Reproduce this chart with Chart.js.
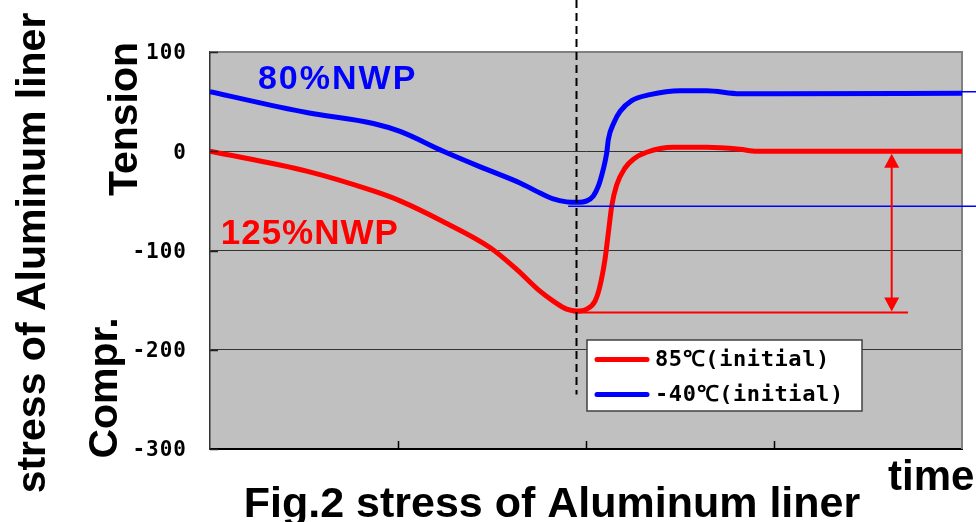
<!DOCTYPE html>
<html>
<head>
<meta charset="utf-8">
<script src="https://cdn.jsdelivr.net/npm/chart.js@4.4.0/dist/chart.umd.min.js"></script>
<style>
  html, body { margin: 0; padding: 0; background: #fff; }
  #wrap { width: 976px; height: 522px; }
</style>
</head>
<body>
<div id="wrap"><canvas id="stressChart" width="976" height="522"></canvas></div>
<script>
// ====================================
// Data
// ====================================
var stressTicks = [100, 0, -100, -200, -300];
var timeRange = [0, 4];

// 85C initial (125%NWP)
var time85 = [0, 0.514, 0.869, 1.011, 1.241, 1.489, 1.631, 1.755, 1.826, 1.897, 1.951, 2.004, 2.048,
              2.074, 2.101, 2.119, 2.137, 2.163, 2.207, 2.252, 2.323, 2.464, 2.642, 2.819, 2.908, 4.0];
var stress85 = [0, -20, -40, -50, -71, -97, -119, -141, -151, -159, -161, -159, -151,
                -136, -109, -82, -55, -34, -17, -8, -1, 4, 4, 2, 0, 0];

// -40C initial (80%NWP)
var timeM40 = [0, 0.514, 0.869, 1.011, 1.241, 1.454, 1.649, 1.755, 1.826, 1.897, 1.951, 2.004, 2.039,
               2.066, 2.092, 2.110, 2.119, 2.149, 2.181, 2.243, 2.34, 2.5, 2.642, 2.819, 2.996, 4.0];
var stressM40 = [60, 39, 28, 20, 0, -17, -32, -42, -48, -51, -51.5, -50, -45,
                 -35, -18, -2, 12, 29, 40, 51, 57, 61, 61, 58, 58, 58.5];

var seriesLabels = ['85℃(initial)', '-40℃(initial)'];
var seriesColors = ['#ff0000', '#0000ff'];
var curveNotes = ['125%NWP', '80%NWP'];

// guide lines
var dashTime = 1.945;        // vertical dashed marker
var dashBottom = -245;
var min85 = -162.5;          // bottom of the 85C dip
var min85From = 1.93, min85To = 3.713;
var minM40 = -55.4;          // bottom of the -40C dip
var minM40From = 1.905;
var endM40 = 60, endM40From = 3.9;
var arrowTime = 3.626;

function points(xs, ys) {
    var out = [];
    for (var i = 0; i < xs.length; i++) out.push({ x: xs[i], y: ys[i] });
    return out;
}

// ====================================
// Drawing helpers
// ====================================
function hline(ctx, x1, x2, y, color, w) {
    ctx.beginPath();
    ctx.strokeStyle = color;
    ctx.lineWidth = w;
    ctx.moveTo(x1, y);
    ctx.lineTo(x2, y);
    ctx.stroke();
}

function arrowHead(ctx, x, tipY, dir) {
    ctx.beginPath();
    ctx.moveTo(x, tipY);
    ctx.lineTo(x - 7.5, tipY + dir * 14);
    ctx.lineTo(x + 7.5, tipY + dir * 14);
    ctx.closePath();
    ctx.fill();
}

function vtext(ctx, str, x, cy, font) {
    ctx.save();
    ctx.translate(x, cy);
    ctx.rotate(-Math.PI / 2);
    ctx.font = font;
    ctx.textAlign = 'center';
    ctx.textBaseline = 'alphabetic';
    ctx.fillText(str, 0, 0);
    ctx.restore();
}

var decor = {
    id: 'decor',
    beforeDraw: function(chart) {
        var ctx = chart.ctx, a = chart.chartArea;
        ctx.save();
        ctx.fillStyle = '#ffffff';
        ctx.fillRect(0, 0, chart.width, chart.height);
        ctx.fillStyle = '#c0c0c0';
        ctx.fillRect(a.left, a.top, a.right - a.left, a.bottom - a.top);
        ctx.restore();
        // spaced-out tick digits
        ctx.letterSpacing = '1px';
    },
    beforeDatasetsDraw: function(chart) {
        var ctx = chart.ctx, a = chart.chartArea;
        ctx.letterSpacing = '0px';
        ctx.save();
        // gray frame on top and right
        ctx.strokeStyle = '#808080';
        ctx.lineWidth = 2;
        ctx.beginPath();
        ctx.moveTo(a.left, a.top);
        ctx.lineTo(a.right, a.top);
        ctx.lineTo(a.right, a.bottom);
        ctx.stroke();
        ctx.restore();
    },
    afterDatasetsDraw: function(chart) {
        var ctx = chart.ctx, a = chart.chartArea;
        var x = chart.scales.x, y = chart.scales.y;
        ctx.save();

        // thin guide lines at the dips
        hline(ctx, x.getPixelForValue(minM40From), chart.width, y.getPixelForValue(minM40), '#0000ff', 1.5);
        hline(ctx, x.getPixelForValue(endM40From), chart.width, y.getPixelForValue(endM40), '#0000ff', 1.5);
        hline(ctx, x.getPixelForValue(min85From), x.getPixelForValue(min85To), y.getPixelForValue(min85), '#ff0000', 2);

        // double arrow between 0 and the 85C dip
        var ax = x.getPixelForValue(arrowTime);
        var ay0 = y.getPixelForValue(0) + 2.5;
        var ay1 = y.getPixelForValue(min85) - 1;
        ctx.strokeStyle = '#ff0000';
        ctx.fillStyle = '#ff0000';
        ctx.lineWidth = 2;
        ctx.beginPath();
        ctx.moveTo(ax, ay0 + 10);
        ctx.lineTo(ax, ay1 - 10);
        ctx.stroke();
        arrowHead(ctx, ax, ay0, 1);
        arrowHead(ctx, ax, ay1, -1);

        // vertical dashed marker
        var dx = Math.round(x.getPixelForValue(dashTime)) + 0.5;
        ctx.strokeStyle = '#000';
        ctx.lineWidth = 2;
        ctx.setLineDash([8, 5]);
        ctx.beginPath();
        ctx.moveTo(dx, 0);
        ctx.lineTo(dx, y.getPixelForValue(dashBottom));
        ctx.stroke();
        ctx.setLineDash([]);

        // inward tick marks
        ctx.strokeStyle = '#000';
        ctx.lineWidth = 1.5;
        x.ticks.forEach(function(t) {
            if (t.value <= timeRange[0] || t.value >= timeRange[1]) return;
            var px = Math.round(x.getPixelForValue(t.value)) + 0.5;
            ctx.beginPath();
            ctx.moveTo(px, a.bottom);
            ctx.lineTo(px, a.bottom - 8);
            ctx.stroke();
        });
        ctx.strokeStyle = '#222';
        ctx.lineWidth = 1.5;
        y.ticks.forEach(function(t) {
            var py = Math.round(y.getPixelForValue(t.value)) + 0.5;
            ctx.beginPath();
            ctx.moveTo(a.left, py);
            ctx.lineTo(a.left + 8, py);
            ctx.stroke();
        });

        // legend
        var bx = 587, by = 340, bw = 275, bh = 71;
        ctx.fillStyle = '#ffffff';
        ctx.fillRect(bx, by, bw, bh);
        ctx.strokeStyle = '#404040';
        ctx.lineWidth = 1.5;
        ctx.strokeRect(bx, by, bw, bh);
        var rows = [359.5, 394.5];
        chart.data.datasets.forEach(function(ds, i) {
            ctx.strokeStyle = ds.borderColor;
            ctx.lineWidth = 5;
            ctx.lineCap = 'round';
            ctx.beginPath();
            ctx.moveTo(597, rows[i]);
            ctx.lineTo(647, rows[i]);
            ctx.stroke();
            ctx.lineCap = 'butt';
            ctx.fillStyle = '#000';
            ctx.font = 'bold 22px "DejaVu Sans Mono"';
            ctx.letterSpacing = '0.6px';
            ctx.textAlign = 'left';
            ctx.textBaseline = 'middle';
            ctx.fillText(ds.label, 655, rows[i] + 1);
            ctx.letterSpacing = '0px';
        });

        // curve notes
        ctx.font = 'bold 34px "Liberation Sans", Arial, sans-serif';
        ctx.textAlign = 'left';
        ctx.textBaseline = 'alphabetic';
        ctx.letterSpacing = '2px';
        ctx.fillStyle = seriesColors[1];
        ctx.fillText(curveNotes[1], x.getPixelForValue(0.255), y.getPixelForValue(62.9));
        ctx.font = 'bold 35px "Liberation Sans", Arial, sans-serif';
        ctx.letterSpacing = '1px';
        ctx.fillStyle = seriesColors[0];
        ctx.fillText(curveNotes[0], x.getPixelForValue(0.057), y.getPixelForValue(-93));
        ctx.letterSpacing = '0px';

        ctx.restore();
    },
    afterDraw: function(chart) {
        var ctx = chart.ctx;
        ctx.save();
        ctx.letterSpacing = '0px';
        ctx.fillStyle = '#000';
        var big = 'bold 41px "Liberation Sans", Arial, sans-serif';
        vtext(ctx, 'stress of Aluminum liner', 45, 253, big);
        vtext(ctx, 'Tension', 137, 119, big);
        vtext(ctx, 'Compr.', 117, 388, big);

        ctx.font = 'bold 43px "Liberation Sans", Arial, sans-serif';
        ctx.textAlign = 'center';
        ctx.textBaseline = 'alphabetic';
        ctx.fillText('Fig.2 stress of Aluminum liner', 552, 517);
        ctx.font = 'bold 42px "Liberation Sans", Arial, sans-serif';
        ctx.textAlign = 'left';
        ctx.fillText('time', 888, 490);
        ctx.restore();
    }
};

// ====================================
// Chart
// ====================================
var ctx = document.getElementById('stressChart').getContext('2d');
new Chart(ctx, {
    type: 'line',
    data: {
        datasets: [{
            label: seriesLabels[0],
            data: points(time85, stress85),
            borderColor: seriesColors[0],
            borderWidth: 5,
            pointRadius: 0,
            cubicInterpolationMode: 'monotone',
            fill: false
        }, {
            label: seriesLabels[1],
            data: points(timeM40, stressM40),
            borderColor: seriesColors[1],
            borderWidth: 5,
            pointRadius: 0,
            cubicInterpolationMode: 'monotone',
            fill: false
        }]
    },
    options: {
        responsive: false,
        animation: false,
        devicePixelRatio: 1,
        layout: { padding: { top: 52, right: 14, left: 0, bottom: 0 } },
        plugins: {
            legend: { display: false },
            tooltip: { enabled: false }
        },
        scales: {
            x: {
                type: 'linear',
                min: timeRange[0],
                max: timeRange[1],
                ticks: { stepSize: 1, display: false },
                grid: { display: false },
                border: { display: true, color: '#000', width: 2 },
                afterFit: function(scale) { scale.width = scale.width; scale.height = 73; }
            },
            y: {
                min: stressTicks[stressTicks.length - 1],
                max: stressTicks[0],
                ticks: {
                    stepSize: 100,
                    color: '#000',
                    padding: 23,
                    labelOffset: 2,
                    font: { family: '"DejaVu Sans Mono"', size: 21, weight: 'bold' }
                },
                grid: {
                    drawTicks: false,
                    lineWidth: 1,
                    color: function(c) {
                        if (!c.tick) return '#333';
                        return (c.tick.value === stressTicks[0] || c.tick.value === stressTicks[stressTicks.length - 1])
                            ? 'rgba(0,0,0,0)' : '#333';
                    }
                },
                border: { display: true, color: '#333', width: 1.5 },
                afterFit: function(scale) { scale.width = 210; }
            }
        }
    },
    plugins: [decor]
});
</script>
</body>
</html>
